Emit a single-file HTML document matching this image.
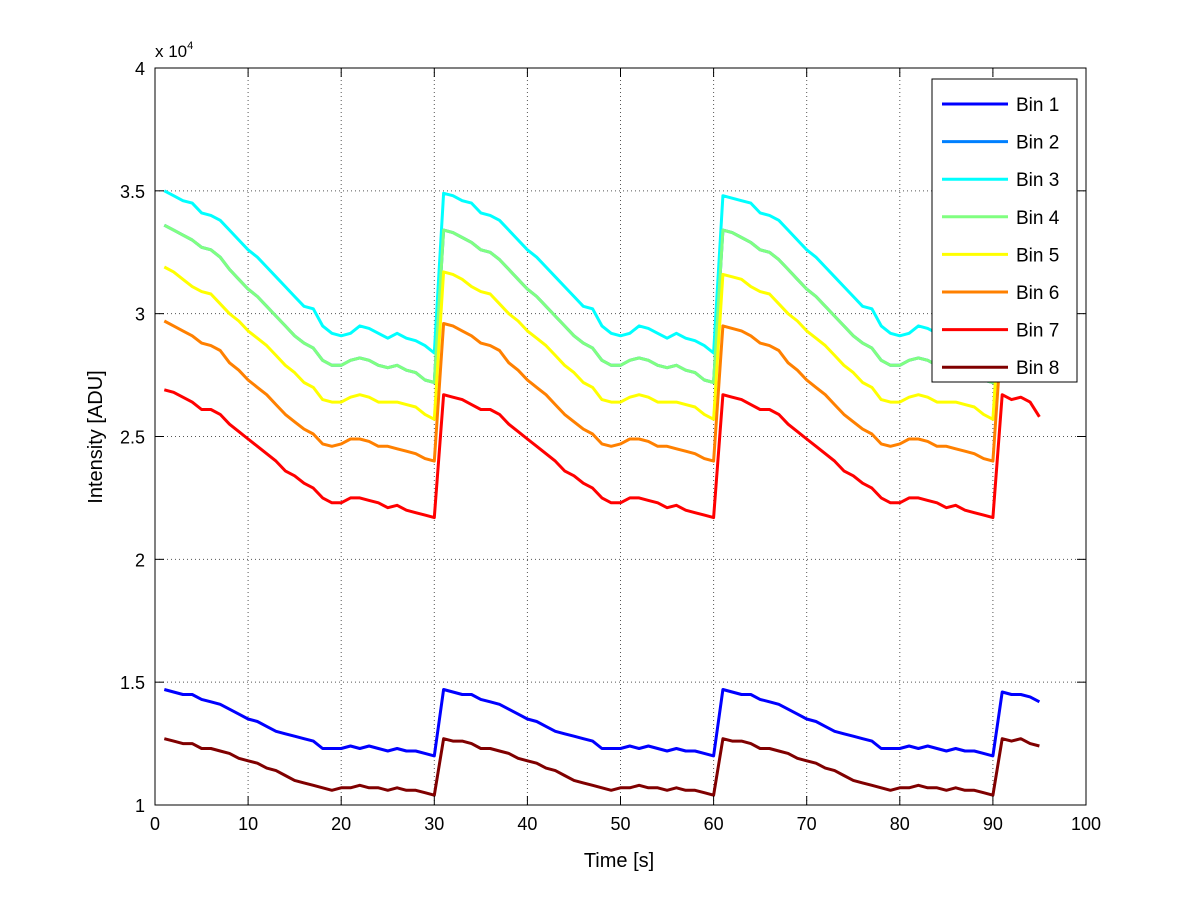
<!DOCTYPE html>
<html><head><meta charset="utf-8"><style>
body{margin:0;background:#fff;}
svg{display:block;font-family:"Liberation Sans",sans-serif;}
</style></head><body>
<svg id="chart" width="1200" height="901" xmlns="http://www.w3.org/2000/svg">
<rect width="1200" height="901" fill="#fff"/>
<g id="grid"></g>
<g id="series"></g>
<rect x="155" y="68" width="931" height="737" fill="none" stroke="#000" stroke-width="1"/>
<g id="ticks"></g>
<text x="155" y="57" font-size="17">x 10<tspan dy="-8" font-size="11">4</tspan></text>
<text x="619" y="867" font-size="20" text-anchor="middle">Time [s]</text>
<text x="0" y="0" font-size="20" text-anchor="middle" transform="translate(102,437) rotate(-90)">Intensity [ADU]</text>
<g id="legend"></g>
</svg>
<script>
const xTicks=[0,10,20,30,40,50,60,70,80,90,100];
const yTicks=[10000,15000,20000,25000,30000,35000,40000];
const yTickLabels=["1","1.5","2","2.5","3","3.5","4"];
const seriesNames=["Bin 1","Bin 2","Bin 3","Bin 4","Bin 5","Bin 6","Bin 7","Bin 8"];
const seriesColors=["#0000ff","#0080ff","#00ffff","#80ff80","#ffff00","#ff8000","#ff0000","#800000"];
const bin1=[14700,14600,14500,14500,14300,14200,14100,13900,13700,13500,13400,13200,13000,12900,12800,12700,12600,12300,12300,12300,12400,12300,12400,12300,12200,12300,12200,12200,12100,12000,
14700,14600,14500,14500,14300,14200,14100,13900,13700,13500,13400,13200,13000,12900,12800,12700,12600,12300,12300,12300,12400,12300,12400,12300,12200,12300,12200,12200,12100,12000,
14700,14600,14500,14500,14300,14200,14100,13900,13700,13500,13400,13200,13000,12900,12800,12700,12600,12300,12300,12300,12400,12300,12400,12300,12200,12300,12200,12200,12100,12000,
14600,14500,14500,14400,14200];
const bin2=[33600,33400,33200,33000,32700,32600,32300,31800,31400,31000,30700,30300,29900,29500,29100,28800,28600,28100,27900,27900,28100,28200,28100,27900,27800,27900,27700,27600,27300,27200,
33400,33300,33100,32900,32600,32500,32200,31800,31400,31000,30700,30300,29900,29500,29100,28800,28600,28100,27900,27900,28100,28200,28100,27900,27800,27900,27700,27600,27300,27200,
33400,33300,33100,32900,32600,32500,32200,31800,31400,31000,30700,30300,29900,29500,29100,28800,28600,28100,27900,27900,28100,28200,28100,27900,27800,27900,27700,27600,27300,27200,
33400,33300,33100,32900,32600];
const bin3=[35000,34800,34600,34500,34100,34000,33800,33400,33000,32600,32300,31900,31500,31100,30700,30300,30200,29500,29200,29100,29200,29500,29400,29200,29000,29200,29000,28900,28700,28400,
34900,34800,34600,34500,34100,34000,33800,33400,33000,32600,32300,31900,31500,31100,30700,30300,30200,29500,29200,29100,29200,29500,29400,29200,29000,29200,29000,28900,28700,28400,
34800,34700,34600,34500,34100,34000,33800,33400,33000,32600,32300,31900,31500,31100,30700,30300,30200,29500,29200,29100,29200,29500,29400,29200,29000,29200,29000,28900,28700,28400,
34800,34700,34600,34500,34100];
const bin4=[33600,33400,33200,33000,32700,32600,32300,31800,31400,31000,30700,30300,29900,29500,29100,28800,28600,28100,27900,27900,28100,28200,28100,27900,27800,27900,27700,27600,27300,27200,
33400,33300,33100,32900,32600,32500,32200,31800,31400,31000,30700,30300,29900,29500,29100,28800,28600,28100,27900,27900,28100,28200,28100,27900,27800,27900,27700,27600,27300,27200,
33400,33300,33100,32900,32600,32500,32200,31800,31400,31000,30700,30300,29900,29500,29100,28800,28600,28100,27900,27900,28100,28200,28100,27900,27800,27900,27700,27600,27300,27200,
33400,33300,33100,32900,32600];
const bin5=[31900,31700,31400,31100,30900,30800,30400,30000,29700,29300,29000,28700,28300,27900,27600,27200,27000,26500,26400,26400,26600,26700,26600,26400,26400,26400,26300,26200,25900,25700,
31700,31600,31400,31100,30900,30800,30400,30000,29700,29300,29000,28700,28300,27900,27600,27200,27000,26500,26400,26400,26600,26700,26600,26400,26400,26400,26300,26200,25900,25700,
31600,31500,31400,31100,30900,30800,30400,30000,29700,29300,29000,28700,28300,27900,27600,27200,27000,26500,26400,26400,26600,26700,26600,26400,26400,26400,26300,26200,25900,25700,
31600,31500,31400,31100,30900];
const bin6=[29700,29500,29300,29100,28800,28700,28500,28000,27700,27300,27000,26700,26300,25900,25600,25300,25100,24700,24600,24700,24900,24900,24800,24600,24600,24500,24400,24300,24100,24000,
29600,29500,29300,29100,28800,28700,28500,28000,27700,27300,27000,26700,26300,25900,25600,25300,25100,24700,24600,24700,24900,24900,24800,24600,24600,24500,24400,24300,24100,24000,
29500,29400,29300,29100,28800,28700,28500,28000,27700,27300,27000,26700,26300,25900,25600,25300,25100,24700,24600,24700,24900,24900,24800,24600,24600,24500,24400,24300,24100,24000,
29500,29400,29300,29100,28800];
const bin7=[26900,26800,26600,26400,26100,26100,25900,25500,25200,24900,24600,24300,24000,23600,23400,23100,22900,22500,22300,22300,22500,22500,22400,22300,22100,22200,22000,21900,21800,21700,
26700,26600,26500,26300,26100,26100,25900,25500,25200,24900,24600,24300,24000,23600,23400,23100,22900,22500,22300,22300,22500,22500,22400,22300,22100,22200,22000,21900,21800,21700,
26700,26600,26500,26300,26100,26100,25900,25500,25200,24900,24600,24300,24000,23600,23400,23100,22900,22500,22300,22300,22500,22500,22400,22300,22100,22200,22000,21900,21800,21700,
26700,26500,26600,26400,25800];
const bin8=[12700,12600,12500,12500,12300,12300,12200,12100,11900,11800,11700,11500,11400,11200,11000,10900,10800,10700,10600,10700,10700,10800,10700,10700,10600,10700,10600,10600,10500,10400,
12700,12600,12600,12500,12300,12300,12200,12100,11900,11800,11700,11500,11400,11200,11000,10900,10800,10700,10600,10700,10700,10800,10700,10700,10600,10700,10600,10600,10500,10400,
12700,12600,12600,12500,12300,12300,12200,12100,11900,11800,11700,11500,11400,11200,11000,10900,10800,10700,10600,10700,10700,10800,10700,10700,10600,10700,10600,10600,10500,10400,
12700,12600,12700,12500,12400];
const seriesData=[bin1,bin2,bin3,bin4,bin5,bin6,bin7,bin8];

const NS="http://www.w3.org/2000/svg";
const L=155,R=1086,T=68,B=805;
const xs=v=>L+(v-0)/(100-0)*(R-L);
const ys=v=>B-(v-10000)/(40000-10000)*(B-T);
function mk(tag,attrs,parent){const e=document.createElementNS(NS,tag);for(const k in attrs)e.setAttribute(k,attrs[k]);parent.appendChild(e);return e;}
const grid=document.getElementById('grid'),ticks=document.getElementById('ticks');
xTicks.forEach(t=>{
  const x=xs(t);
  if(t>0&&t<100){const g=mk('line',{x1:x,x2:x,y1:T,y2:B,stroke:'#555','stroke-width':1,'stroke-dasharray':'1,3'},grid);
  
  }
  mk('line',{x1:x,x2:x,y1:B,y2:B-9,stroke:'#000'},ticks);
  mk('line',{x1:x,x2:x,y1:T,y2:T+9,stroke:'#000'},ticks);
  const lb=mk('text',{x:x,y:B+25,'font-size':18,'text-anchor':'middle'},ticks);
  lb.textContent=t;
  
  
});
yTicks.forEach((t,i)=>{
  const y=ys(t);
  if(i>0&&i<yTicks.length-1){const g=mk('line',{x1:L,x2:R,y1:y,y2:y,stroke:'#555','stroke-width':1,'stroke-dasharray':'1,3'},grid);
  
  }
  mk('line',{x1:L,x2:L+9,y1:y,y2:y,stroke:'#000'},ticks);
  mk('line',{x1:R,x2:R-9,y1:y,y2:y,stroke:'#000'},ticks);
  const lb=mk('text',{x:L-10,y:y+7,'font-size':18,'text-anchor':'end'},ticks);
  lb.textContent=yTickLabels[i];
  
  
});
const sg=document.getElementById('series');
seriesData.forEach((d,si)=>{
  const pts=d.map((v,i)=>xs(i+1).toFixed(1)+','+ys(v).toFixed(1)).join(' ');
  const p=mk('polyline',{points:pts,fill:'none',stroke:seriesColors[si],'stroke-width':3,'stroke-linejoin':'round'},sg);
  
  
});
const lg=document.getElementById('legend');
const box=mk('rect',{x:932,y:79,width:145,height:303,fill:'#fff',stroke:'#000'},lg);


seriesNames.forEach((n,i)=>{
  const y=104+i*37.6;
  const ln=mk('line',{x1:942,x2:1008,y1:y,y2:y,stroke:seriesColors[i],'stroke-width':3},lg);
  
  
  const tx=mk('text',{x:1016,y:y+7,'font-size':19},lg);
  tx.textContent=n;
  
  
});
</script>
</body></html>
